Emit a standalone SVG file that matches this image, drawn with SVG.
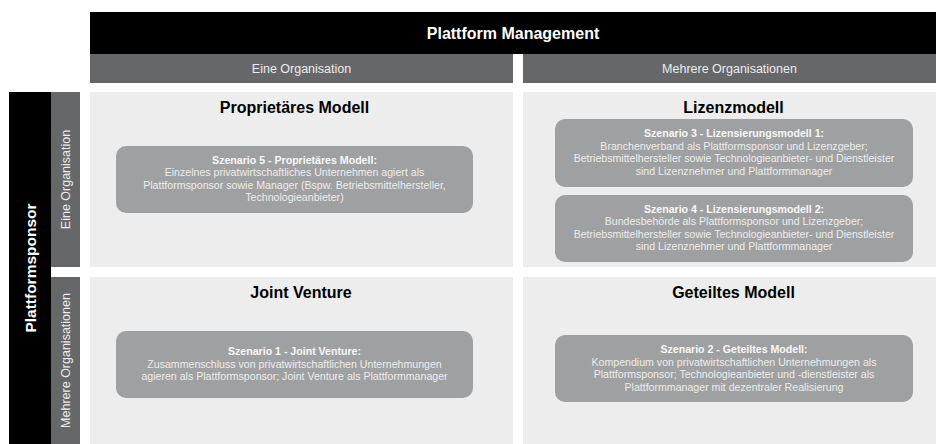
<svg xmlns="http://www.w3.org/2000/svg" width="936" height="444" viewBox="0 0 936 444">
<style>
.bk{fill:#000000}
.hd{fill:#666769}
.qd{fill:#ECEDEC}
.bx{fill:#9FA0A1}
.t-main{font-family:"Liberation Sans",Arial,sans-serif;font-weight:bold;font-size:16px;fill:#ffffff;text-anchor:middle}
.t-sub{font-family:"Liberation Sans",Arial,sans-serif;font-size:12.5px;fill:#ececec;text-anchor:middle}
.t-title{font-family:"Liberation Sans",Arial,sans-serif;font-weight:bold;font-size:16px;fill:#000000;text-anchor:middle}
.t-box{font-family:"Liberation Sans",Arial,sans-serif;font-size:10.6px;fill:#ededed;text-anchor:middle}
.t-boxb{font-weight:bold;fill:#f8f8f8}
</style>
<rect width="936" height="444" fill="#ffffff"/>
<g id="header-management">
<rect class="bk" x="90" y="12" width="846" height="42"/>
<text class="t-main" x="513" y="39">Plattform Management</text>
</g>
<g id="header-eine">
<rect class="hd" x="90" y="54" width="423" height="29"/>
<text class="t-sub" x="301.5" y="73">Eine Organisation</text>
</g>
<g id="header-mehrere">
<rect class="hd" x="523" y="54" width="413" height="29"/>
<text class="t-sub" x="729.5" y="73">Mehrere Organisationen</text>
</g>
<g id="side-sponsor">
<rect class="bk" x="9" y="92" width="42" height="352"/>
<text class="t-main" transform="translate(35.5,268) rotate(-90)" x="0" y="0" style="font-size:15.5px">Plattformsponsor</text>
</g>
<g id="side-eine">
<rect class="hd" x="51" y="92" width="29" height="175"/>
<text class="t-sub" transform="translate(70,179.5) rotate(-90)" x="0" y="0">Eine Organisation</text>
</g>
<g id="side-mehrere">
<rect class="hd" x="51" y="277" width="29" height="167"/>
<text class="t-sub" transform="translate(70,360.5) rotate(-90)" x="0" y="0">Mehrere Organisationen</text>
</g>
<g id="q-proprietaer">
<rect class="qd" x="90" y="92" width="423" height="175"/>
<text class="t-title" x="294.5" y="113">Proprietäres Modell</text>
</g>
<g id="q-lizenz">
<rect class="qd" x="523" y="92" width="413" height="175"/>
<text class="t-title" x="733.5" y="113">Lizenzmodell</text>
</g>
<g id="q-joint">
<rect class="qd" x="90" y="277" width="423" height="167"/>
<text class="t-title" x="301" y="298">Joint Venture</text>
</g>
<g id="q-geteilt">
<rect class="qd" x="523" y="277" width="413" height="167"/>
<text class="t-title" x="733.5" y="298">Geteiltes Modell</text>
</g>
<g id="box-szenario5">
<rect class="bx" x="116" y="146" width="357" height="67" rx="10"/>
<text class="t-box t-boxb" x="294.5" y="163.5">Szenario 5 - Proprietäres Modell:</text>
<text class="t-box" x="294.5" y="176">Einzelnes privatwirtschaftliches Unternehmen agiert als</text>
<text class="t-box" x="294.5" y="188.5">Plattformsponsor sowie Manager (Bspw. Betriebsmittelhersteller,</text>
<text class="t-box" x="294.5" y="201">Technologieanbieter)</text>
</g>
<g id="box-szenario3">
<rect class="bx" x="555" y="119" width="358" height="68" rx="10"/>
<text class="t-box t-boxb" x="734" y="137">Szenario 3 - Lizensierungsmodell 1:</text>
<text class="t-box" x="734" y="149.5">Branchenverband als Plattformsponsor und Lizenzgeber;</text>
<text class="t-box" x="734" y="162">Betriebsmittelhersteller sowie Technologieanbieter- und Dienstleister</text>
<text class="t-box" x="734" y="174.5">sind Lizenznehmer und Plattformmanager</text>
</g>
<g id="box-szenario4">
<rect class="bx" x="555" y="195" width="358" height="67" rx="10"/>
<text class="t-box t-boxb" x="734" y="212.5">Szenario 4 - Lizensierungsmodell 2:</text>
<text class="t-box" x="734" y="225">Bundesbehörde als Plattformsponsor und Lizenzgeber;</text>
<text class="t-box" x="734" y="237.5">Betriebsmittelhersteller sowie Technologieanbieter- und Dienstleister</text>
<text class="t-box" x="734" y="250">sind Lizenznehmer und Plattformmanager</text>
</g>
<g id="box-szenario1">
<rect class="bx" x="116" y="331" width="357" height="67" rx="10"/>
<text class="t-box t-boxb" x="294.5" y="355">Szenario 1 - Joint Venture:</text>
<text class="t-box" x="294.5" y="367.5">Zusammenschluss von privatwirtschaftlichen Unternehmungen</text>
<text class="t-box" x="294.5" y="380">agieren als Plattformsponsor; Joint Venture als Plattformmanager</text>
</g>
<g id="box-szenario2">
<rect class="bx" x="555" y="335" width="358" height="67" rx="10"/>
<text class="t-box t-boxb" x="734" y="353">Szenario 2 - Geteiltes Modell:</text>
<text class="t-box" x="734" y="365.5">Kompendium von privatwirtschaftlichen Unternehmungen als</text>
<text class="t-box" x="734" y="378">Plattformsponsor; Technologieanbieter und -dienstleister als</text>
<text class="t-box" x="734" y="390.5">Plattformmanager mit dezentraler Realisierung</text>
</g>
<g id="connectors"></g>
</svg>
